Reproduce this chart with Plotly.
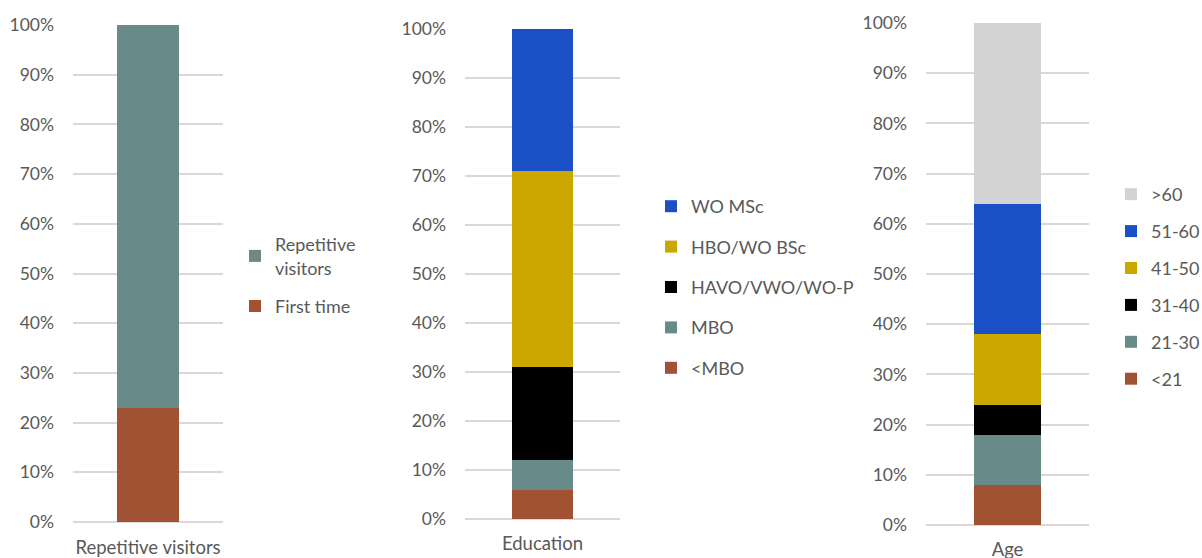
import plotly.graph_objects as go

# ---- data ----
visit_cats = ["First time", "Repetitive<br>visitors"]
visit_vals = [0.23, 0.77]
visit_colors = ["#a15233", "#688b8a"]

edu_cats = ["<MBO", "MBO", "HAVO/VWO/WO-P", "HBO/WO BSc", "WO MSc"]
edu_vals = [0.06, 0.06, 0.19, 0.40, 0.29]
edu_colors = ["#a15233", "#688b8a", "#000000", "#cca700", "#1a4fc6"]

age_cats = ["<21", "21-30", "31-40", "41-50", "51-60", ">60"]
age_vals = [0.08, 0.10, 0.06, 0.14, 0.26, 0.36]
age_colors = ["#a15233", "#688b8a", "#000000", "#cca700", "#1a4fc6", "#d4d3d4"]

panel_x = ["Repetitive visitors", "Education", "Age"]

W, H = 1202, 558
FONT = "Lato"
TXT = "#595959"

fig = go.Figure()

panels = [
    (visit_cats, visit_vals, visit_colors, "x", "y", "legend", 0.41),
    (edu_cats, edu_vals, edu_colors, "x2", "y2", "legend2", 0.39),
    (age_cats, age_vals, age_colors, "x3", "y3", "legend3", 0.41),
]
for i, (cats, vals, cols, xa, ya, lg, bw) in enumerate(panels):
    for k, (c, v, col) in enumerate(zip(cats, vals, cols)):
        fig.add_trace(go.Bar(
            x=[panel_x[i]], y=[v], name=c, marker_color=col,
            marker_line_width=0, width=bw, xaxis=xa, yaxis=ya,
            legend=lg, legendgroup=f"{i}-{c}", legendrank=1000 - k,
            hoverinfo="skip",
        ))

def px_x(p):
    return p / W

def px_y(p):
    return (H - p) / H

# (x left, x right, y top(100%), y bottom(0%))
geo = [(73, 223, 25, 522), (465, 620, 29, 519), (926, 1089, 23, 525)]
x_standoff = [12, 11, 11]
axis_names = [("xaxis", "yaxis"), ("xaxis2", "yaxis2"), ("xaxis3", "yaxis3")]
layout_axes = {}
for (xl, xr, yt, yb), (xn, yn), anc, so in zip(geo, axis_names, ["y", "y2", "y3"], x_standoff):
    xid = "x" if xn == "xaxis" else "x" + xn[-1]
    layout_axes[xn] = dict(
        domain=[px_x(xl), px_x(xr)], anchor=anc, showgrid=False,
        showline=False, zeroline=False, ticks="", automargin=False,
        tickfont=dict(family=FONT, size=18.5, color=TXT),
        ticklabelstandoff=so, fixedrange=True,
    )
    layout_axes[yn] = dict(
        domain=[px_y(yb), px_y(yt)], anchor=xid, range=[0, 1.0],
        tickformat=".0%", dtick=0.1, tick0=0, automargin=False,
        showgrid=True, gridcolor="#d9d9d9", gridwidth=1.5,
        zeroline=True, zerolinecolor="#d9d9d9", zerolinewidth=1.5,
        showline=False, ticks="",
        tickfont=dict(family=FONT, size=17.5, color=TXT),
        ticklabelstandoff=18, fixedrange=True,
    )

legend_common = dict(
    traceorder="grouped", xanchor="left", yanchor="top",
    font=dict(family=FONT, size=18, color=TXT),
    bgcolor="rgba(0,0,0,0)", borderwidth=0,
)

fig.update_layout(
    width=W, height=H,
    margin=dict(l=0, r=0, t=0, b=0, autoexpand=False),
    paper_bgcolor="white", plot_bgcolor="white",
    barmode="stack",
    font=dict(family=FONT, color=TXT),
    legend=dict(x=px_x(235), y=px_y(226), tracegroupgap=12, **legend_common),
    legend2=dict(x=px_x(651), y=px_y(188), tracegroupgap=14, **legend_common),
    legend3=dict(x=px_x(1111), y=px_y(176), tracegroupgap=10.5, **legend_common),
    **layout_axes,
)

fig.write_html("out.html", config={"displayModeBar": False})
